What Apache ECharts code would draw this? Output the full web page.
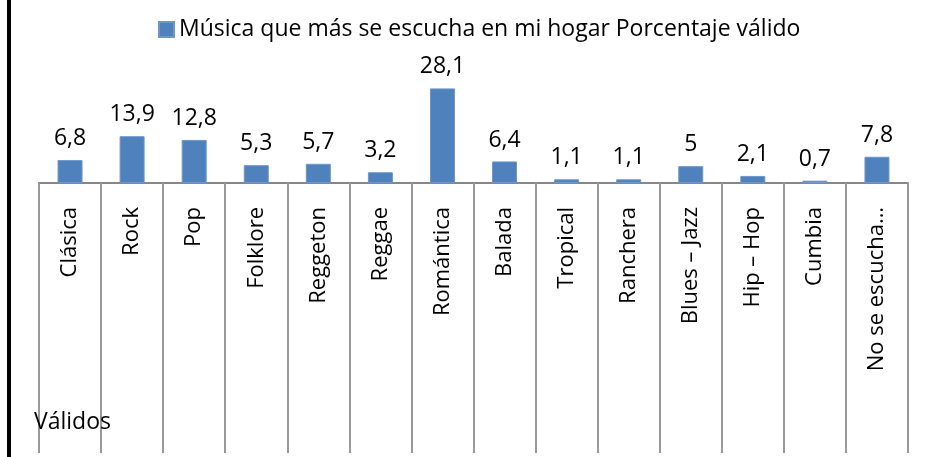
<!DOCTYPE html>
<html>
<head>
<meta charset="utf-8">
<script src="https://cdn.jsdelivr.net/npm/echarts@6/dist/echarts.min.js"></script>
<style>
  html, body { margin: 0; padding: 0; background: #fff; }
  #chart { width: 926px; height: 457px; }
</style>
</head>
<body>
<div id="chart"></div>
<script>
// datos
var categorias = ['Clásica', 'Rock', 'Pop', 'Folklore', 'Reggeton', 'Reggae', 'Romántica',
  'Balada', 'Tropical', 'Ranchera', 'Blues – Jazz', 'Hip – Hop', 'Cumbia', 'No se escucha…']
var porcentajes = [6.8, 13.9, 12.8, 5.3, 5.7, 3.2, 28.1, 6.4, 1.1, 1.1, 5, 2.1, 0.7, 7.8]
var nombreSerie = 'Música que más se escucha en mi hogar Porcentaje válido'

var fuente = '"Open Sans", "Noto Sans", sans-serif'
var myChart = echarts.init(document.getElementById('chart'))

var option = {
  animation: false,
  textStyle: { fontFamily: fuente },
  title: {
    text: 'Válidos',
    left: 29,
    top: 406,
    textStyle: { fontFamily: fuente, fontSize: 23, fontWeight: 'normal', color: '#000' }
  },
  legend: {
    data: [nombreSerie],
    top: 13,
    left: 153,
    itemWidth: 15,
    itemHeight: 15,
    itemGap: 6,
    icon: 'rect',
    textStyle: { fontFamily: fuente, fontSize: 23, color: '#000' }
  },
  grid: { left: 39, right: 18, top: 82, bottom: 274, containLabel: false },
  xAxis: {
    type: 'category',
    data: categorias,
    axisLine: { lineStyle: { color: '#878787', width: 2 } },
    axisTick: { show: true, length: 270, lineStyle: { color: '#999', width: 2 } },
    axisLabel: {
      rotate: 90,
      margin: 24,
      interval: 0,
      fontFamily: fuente,
      fontSize: 22,
      color: '#000'
    }
  },
  yAxis: {
    type: 'value',
    min: 0,
    max: 30,
    show: false
  },
  series: [
    {
      name: nombreSerie,
      type: 'bar',
      data: porcentajes,
      barWidth: 25,
      itemStyle: { color: '#4F81BD', borderColor: '#6d97cb', borderWidth: 1 },
      label: {
        show: true,
        position: 'top',
        distance: 10,
        fontFamily: fuente,
        fontSize: 23,
        color: '#000',
        formatter: function (p) {
          return String(p.value).replace('.', ',')
        }
      }
    }
  ],
  graphic: [
    { type: 'rect', shape: { x: 7, y: 0, width: 4, height: 457 }, style: { fill: '#000' } }
  ]
}

myChart.setOption(option)
</script>
</body>
</html>
